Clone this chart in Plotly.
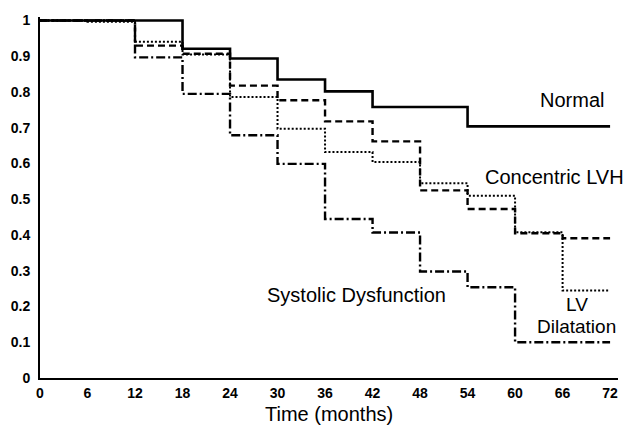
import plotly.graph_objects as go

months = [0, 6, 12, 18, 24, 30, 36, 42, 48, 54, 60, 66, 72]
normal = [1, 1, 1, 0.921, 0.894, 0.835, 0.802, 0.758, 0.758, 0.704, 0.704, 0.704, 0.704]
concentric_lvh = [1, 1, 0.93, 0.907, 0.818, 0.777, 0.718, 0.662, 0.525, 0.473, 0.405, 0.391, 0.391]
lv_dilatation = [1, 0.997, 0.941, 0.905, 0.786, 0.697, 0.632, 0.604, 0.545, 0.51, 0.408, 0.245, 0.245]
systolic = [1, 1, 0.897, 0.795, 0.679, 0.599, 0.445, 0.407, 0.298, 0.254, 0.1, 0.1, 0.1]

x_ticks = [0, 6, 12, 18, 24, 30, 36, 42, 48, 54, 60, 66, 72]
y_ticks = [0, 0.1, 0.2, 0.3, 0.4, 0.5, 0.6, 0.7, 0.8, 0.9, 1]
y_tick_text = ["0", "0.1", "0.2", "0.3", "0.4", "0.5", "0.6", "0.7", "0.8", "0.9", "1"]

fig = go.Figure()
series = [
    ("Normal", normal, dict(color="black", width=2.6, dash="solid")),
    ("Concentric LVH", concentric_lvh, dict(color="black", width=2.4, dash="7px,4px")),
    ("LV Dilatation", lv_dilatation, dict(color="black", width=2.0, dash="2px,2px")),
    ("Systolic Dysfunction", systolic, dict(color="black", width=2.4, dash="9px,3px,2px,3px")),
]
for name, vals, line in series:
    fig.add_trace(go.Scatter(x=months, y=vals, mode="lines", name=name,
                             line=dict(shape="hv", **line), showlegend=False))

font = "Liberation Sans, Arial, Helvetica, sans-serif"
ann = [
    ("Normal", 67.2, 0.779, 20),
    ("Concentric LVH", 65.0, 0.563, 20),
    ("Systolic Dysfunction", 40.0, 0.231, 20),
    ("LV", 67.8, 0.2045, 19),
    ("Dilatation", 67.8, 0.143, 19),
]
for text, x, y, size in ann:
    fig.add_annotation(x=x, y=y, text=text, showarrow=False, xref="x", yref="y",
                       font=dict(family=font, size=size, color="black"))

# axis title
fig.add_annotation(x=0.5, y=-0.0997, xref="paper", yref="paper", text="Time (months)",
                   showarrow=False, yanchor="middle",
                   font=dict(family=font, size=20, color="black"))

# the page body has an 8px default margin, so the figure is sized to fit inside the window
fig.update_layout(
    width=625, height=418,
    margin=dict(l=32, r=15, t=9, b=48),
    paper_bgcolor="white", plot_bgcolor="white",
    font=dict(family=font, color="black"),
)
fig.update_xaxes(range=[0, 73], tickvals=x_ticks, ticktext=[str(v) for v in x_ticks],
                 showline=True, linecolor="black", linewidth=2, showgrid=False, zeroline=False,
                 ticks="", ticklabelstandoff=1, automargin=False,
                 tickfont=dict(family=font, size=14, color="black", weight="bold"))
fig.update_yaxes(range=[0, 1.01], tickvals=y_ticks, ticktext=y_tick_text,
                 showline=True, linecolor="black", linewidth=2, showgrid=False, zeroline=False,
                 ticks="", ticklabelstandoff=5, automargin=False,
                 tickfont=dict(family=font, size=14, color="black", weight="bold"))

fig.write_html("out.html")
